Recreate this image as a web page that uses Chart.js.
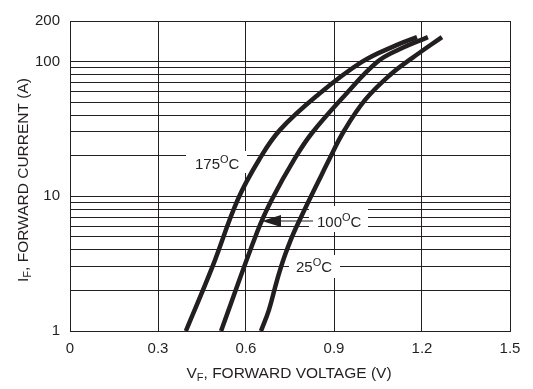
<!DOCTYPE html>
<html>
<head>
<meta charset="utf-8">
<script src="https://cdn.jsdelivr.net/npm/chart.js@4/dist/chart.umd.min.js"></script>
<style>
  body { margin: 0; background: #fff; }
  canvas { display: block; }
</style>
</head>
<body>
<canvas id="chart" width="533" height="389"></canvas>
<script>
// forward voltage (V) / forward current (A)
var v175 = [0.395, 0.484, 0.573, 0.648, 0.716, 0.845, 0.995, 1.115, 1.183];
var i175 = [1, 2.94, 9.55, 19.2, 31.1, 56.5, 99.3, 133, 152];

var v100 = [0.515, 0.638, 0.689, 0.767, 0.825, 0.938, 1.047, 1.125, 1.220];
var i100 = [1, 5.43, 9.55, 19.2, 29.5, 56.5, 99.3, 124, 152];

var v25 = [0.651, 0.678, 0.706, 0.733, 0.770, 0.886, 0.934, 1.006, 1.091, 1.166, 1.268];
var i25 = [1, 1.43, 2.39, 3.67, 5.82, 19.2, 30.5, 51.9, 79.5, 106, 152];

var xTicks = [0, 0.3, 0.6, 0.9, 1.2, 1.5];
var yGrid = [1, 2, 3, 4, 5, 6, 7, 8, 9, 10, 20, 30, 40, 50, 60, 70, 80, 90, 100, 200];
var yLabels = [1, 10, 100, 200];

const ink = '#231f20';
const fontFam = '"Liberation Sans", Arial, sans-serif';

function pts(xs, ys) {
    return xs.map(function (x, k) { return { x: x, y: ys[k] }; });
}

function curve(label, xs, ys) {
    return {
        label: label,
        data: pts(xs, ys),
        borderColor: ink,
        borderWidth: 4.5,
        pointRadius: 0,
        fill: false,
        tension: 0.4
    };
}

// text like 175°C with a raised capital O
function tempText(ctx, x, y, num) {
    ctx.font = '15px ' + fontFam;
    ctx.fillText(num, x, y);
    let w = ctx.measureText(num).width;
    ctx.font = '11px ' + fontFam;
    ctx.fillText('O', x + w, y - 6);
    let w2 = ctx.measureText('O').width;
    ctx.font = '15px ' + fontFam;
    ctx.fillText('C', x + w + w2, y);
}

const notes = {
    id: 'notes',
    beforeDatasetsDraw(chart) {
        const ctx = chart.ctx;
        ctx.save();
        ctx.fillStyle = '#fff';
        ctx.fillRect(186, 151, 61, 22);
        ctx.fillRect(309, 206, 59, 26);
        ctx.fillRect(289, 255, 51, 23);

        ctx.fillStyle = ink;
        ctx.textAlign = 'left';
        ctx.textBaseline = 'alphabetic';
        tempText(ctx, 195, 169, '175');
        tempText(ctx, 317, 227, '100');
        tempText(ctx, 296, 272, '25');

        // arrow to the 100 C curve
        ctx.strokeStyle = ink;
        ctx.lineWidth = 1.2;
        ctx.beginPath();
        ctx.moveTo(278, 221);
        ctx.lineTo(313, 221);
        ctx.stroke();
        ctx.beginPath();
        ctx.moveTo(262, 221);
        ctx.lineTo(281, 215);
        ctx.lineTo(281, 227);
        ctx.closePath();
        ctx.fill();
        ctx.restore();
    },
    afterDraw(chart) {
        const ctx = chart.ctx;
        ctx.save();
        ctx.fillStyle = ink;
        ctx.textBaseline = 'alphabetic';

        // x title
        let main = '15.5px ' + fontFam, sub = '11px ' + fontFam;
        ctx.font = main;
        let wV = ctx.measureText('V').width;
        let rest = ', FORWARD VOLTAGE (V)';
        let wR = ctx.measureText(rest).width;
        ctx.font = sub;
        let wF = ctx.measureText('F').width;
        let total = wV + wF + wR;
        let x0 = 289 - total / 2, by = 378;
        ctx.font = main;
        ctx.fillText('V', x0, by);
        ctx.font = sub;
        ctx.fillText('F', x0 + wV, by + 3);
        ctx.font = main;
        ctx.fillText(rest, x0 + wV + wF, by);

        // y title
        ctx.translate(28, 180);
        ctx.rotate(-Math.PI / 2);
        ctx.font = main;
        let wI = ctx.measureText('I').width;
        let restY = ', FORWARD CURRENT (A)';
        let wRY = ctx.measureText(restY).width;
        ctx.font = sub;
        let wFY = ctx.measureText('F').width;
        let totY = wI + wFY + wRY;
        let y0 = -totY / 2;
        ctx.font = main;
        ctx.fillText('I', y0, 0);
        ctx.font = sub;
        ctx.fillText('F', y0 + wI, 3);
        ctx.font = main;
        ctx.fillText(restY, y0 + wI + wFY, 0);
        ctx.restore();
    }
};

const ctx = document.getElementById('chart').getContext('2d');
new Chart(ctx, {
    type: 'line',
    data: {
        datasets: [
            curve('175°C', v175, i175),
            curve('100°C', v100, i100),
            curve('25°C', v25, i25)
        ]
    },
    options: {
        responsive: false,
        animation: false,
        layout: { padding: { top: 21, right: 23, left: 0, bottom: 0 } },
        plugins: {
            legend: { display: false },
            tooltip: { enabled: false }
        },
        scales: {
            x: {
                type: 'linear',
                min: 0,
                max: 1.5,
                afterBuildTicks: function (scale) {
                    scale.ticks = xTicks.map(function (v) { return { value: v }; });
                },
                afterFit: function (scale) { scale.height = 58; },
                ticks: {
                    padding: 9,
                    color: ink,
                    font: { family: fontFam, size: 15 },
                    maxRotation: 0,
                    callback: function (v) { return v === 0 ? '0' : v.toFixed(1); }
                },
                grid: { color: ink, lineWidth: 1, drawTicks: false },
                border: { color: ink, width: 1 }
            },
            y: {
                type: 'logarithmic',
                min: 1,
                max: 200,
                afterBuildTicks: function (scale) {
                    scale.ticks = yGrid.map(function (v) { return { value: v }; });
                },
                afterFit: function (scale) { scale.width = 70; },
                ticks: {
                    padding: 10,
                    color: ink,
                    autoSkip: false,
                    font: { family: fontFam, size: 15 },
                    callback: function (v) { return yLabels.indexOf(v) >= 0 ? String(v) : ''; }
                },
                grid: { color: ink, lineWidth: 1, drawTicks: false },
                border: { color: ink, width: 1 }
            }
        }
    },
    plugins: [notes]
});
</script>
</body>
</html>
